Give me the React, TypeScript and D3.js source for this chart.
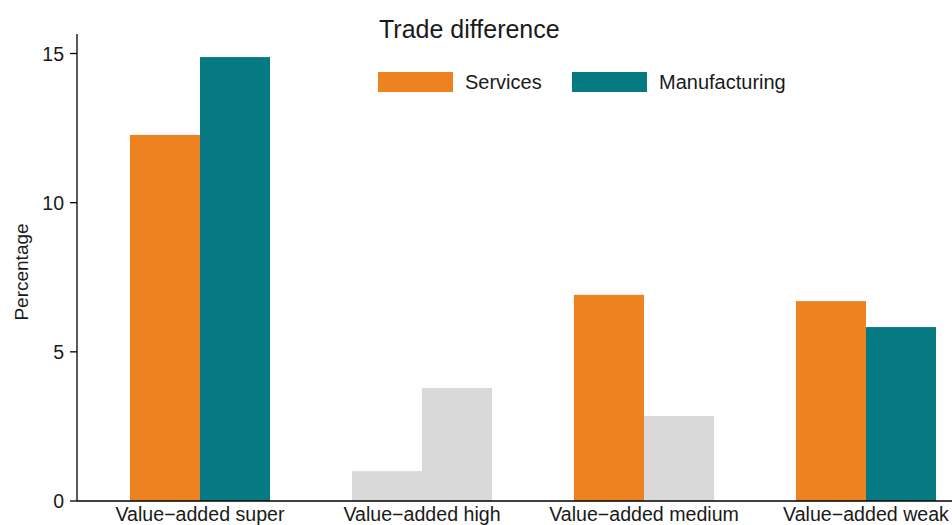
import React from "react";
import * as d3 from "d3";

const categories = ["Value\u2212added super", "Value\u2212added high", "Value\u2212added medium", "Value\u2212added weak"];
const seriesNames = ["Services", "Manufacturing"];
const servicesValues = [12.27, 1.0, 6.91, 6.7];
const manufacturingValues = [14.88, 3.79, 2.85, 5.83];
const servicesSignificant = [true, false, true, true];
const manufacturingSignificant = [true, false, false, true];
const yTicks = [0, 5, 10, 15];

const W = 952;
const H = 525;
const COLORS = { Services: "#EF8220", Manufacturing: "#067A82" };
const GREY = "#D9D9D9";
const FONT = "'Liberation Sans', Arial, Helvetica, sans-serif";
const TXT = "#1a1a1a";

export default function App() {
  const x0 = 77;
  const y = d3.scaleLinear().domain([0, 15]).range([501, 53.5]);
  const x = d3
    .scaleBand<string>()
    .domain(categories)
    .range([89, 977])
    .paddingInner(0.369)
    .paddingOuter(0.1845);
  const xs = d3.scaleBand<string>().domain(seriesNames).range([0, x.bandwidth()]);

  const rows = categories.map((c, i) => ({
    c,
    vals: [
      { s: "Services", v: servicesValues[i], sig: servicesSignificant[i] },
      { s: "Manufacturing", v: manufacturingValues[i], sig: manufacturingSignificant[i] },
    ],
  }));

  return (
    <svg width={W} height={H} style={{ position: "absolute", left: 0, top: 0, background: "#fff" }}>
      {rows.map((r) =>
        r.vals.map((d) => (
          <rect
            key={r.c + d.s}
            x={(x(r.c) ?? 0) + (xs(d.s) ?? 0)}
            y={y(d.v)}
            width={xs.bandwidth()}
            height={y(0) - y(d.v)}
            fill={d.sig ? (COLORS as any)[d.s] : GREY}
          />
        ))
      )}
      {/* y axis */}
      <line x1={x0} x2={x0} y1={34} y2={y(0)} stroke="#000" strokeWidth={1.3} />
      {yTicks.map((t) => (
        <g key={t}>
          <line x1={x0 - 7} x2={x0} y1={y(t)} y2={y(t)} stroke="#000" strokeWidth={1.3} />
          <text
            x={x0 - 13}
            y={y(t)}
            dy="0.36em"
            textAnchor="end"
            fontFamily={FONT}
            fontSize={19.5}
            fill={TXT}
          >
            {t}
          </text>
        </g>
      ))}
      <text
        transform={`translate(28,272) rotate(-90)`}
        textAnchor="middle"
        fontFamily={FONT}
        fontSize={19}
        fill={TXT}
      >
        Percentage
      </text>
      {/* x axis */}
      <line x1={x0} x2={W} y1={y(0)} y2={y(0)} stroke="#000" strokeWidth={1.3} />
      {categories.map((c) => (
        <text
          key={c}
          x={(x(c) ?? 0) + x.bandwidth() / 2}
          y={521}
          textAnchor="middle"
          fontFamily={FONT}
          fontSize={19.6}
          fill={TXT}
        >
          {c}
        </text>
      ))}
      {/* title */}
      <text x={379} y={38} fontFamily={FONT} fontSize={25} fill={TXT}>
        Trade difference
      </text>
      {/* legend */}
      {seriesNames.map((s, i) => {
        const lx = [378, 572][i];
        return (
          <g key={s}>
            <rect x={lx} y={72} width={75} height={20} fill={(COLORS as any)[s]} />
            <text x={lx + 87} y={89} fontFamily={FONT} fontSize={20} fill={TXT}>
              {s}
            </text>
          </g>
        );
      })}
    </svg>
  );
}
